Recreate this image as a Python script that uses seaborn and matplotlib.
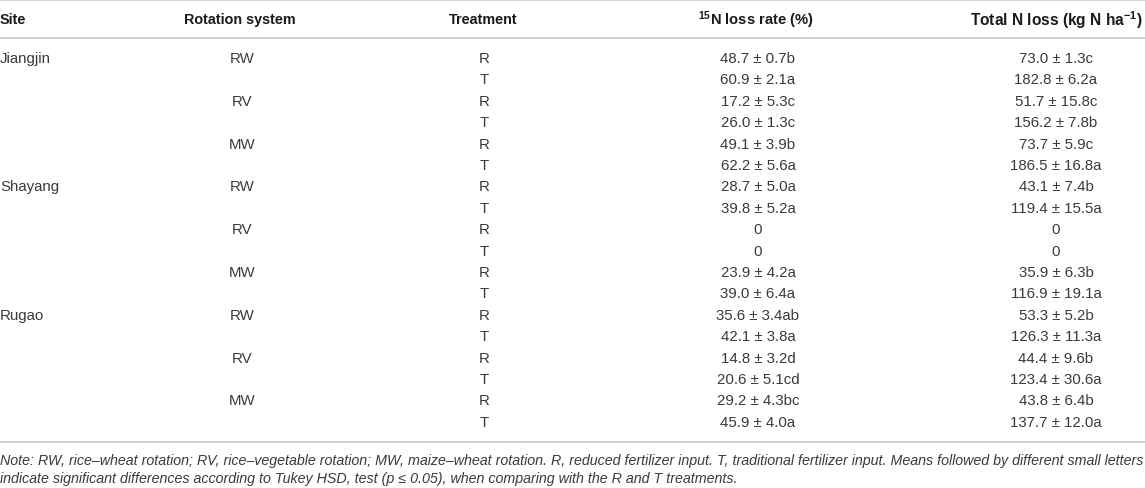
import matplotlib
matplotlib.use("Agg")
import matplotlib.pyplot as plt
import seaborn as sns

# Table content
sites = ["Jiangjin", "Shayang", "Rugao"]
rotations = ["RW", "RV", "MW"]
treatments = ["R", "T"]

n_loss_rate = [
    "48.7 ± 0.7b", "60.9 ± 2.1a", "17.2 ± 5.3c", "26.0 ± 1.3c", "49.1 ± 3.9b", "62.2 ± 5.6a",
    "28.7 ± 5.0a", "39.8 ± 5.2a", "0", "0", "23.9 ± 4.2a", "39.0 ± 6.4a",
    "35.6 ± 3.4ab", "42.1 ± 3.8a", "14.8 ± 3.2d", "20.6 ± 5.1cd", "29.2 ± 4.3bc", "45.9 ± 4.0a",
]
total_n_loss = [
    "73.0 ± 1.3c", "182.8 ± 6.2a", "51.7 ± 15.8c", "156.2 ± 7.8b", "73.7 ± 5.9c", "186.5 ± 16.8a",
    "43.1 ± 7.4b", "119.4 ± 15.5a", "0", "0", "35.9 ± 6.3b", "116.9 ± 19.1a",
    "53.3 ± 5.2b", "126.3 ± 11.3a", "44.4 ± 9.6b", "123.4 ± 30.6a", "43.8 ± 6.4b", "137.7 ± 12.0a",
]
headers = ["Site", "Rotation system", "Treatment",
           r"$^{15}$N loss rate (%)", r"Total N loss (kg N ha$^{-1}$)"]
note = ("Note: RW, rice–wheat rotation; RV, rice–vegetable rotation; MW, maize–wheat rotation. "
        "R, reduced fertilizer input. T, traditional fertilizer input. Means followed by different small letters\n"
        "indicate significant differences according to Tukey HSD, test (p ≤ 0.05), when comparing with the R and T treatments.")

sns.set_style("white")
plt.rcParams["font.family"] = ["Liberation Sans", "DejaVu Sans"]
plt.rcParams["mathtext.fontset"] = "custom"
plt.rcParams["mathtext.rm"] = "Liberation Sans:bold"
plt.rcParams["mathtext.it"] = "Liberation Sans:bold"

W, H = 1145, 489
fig = plt.figure(figsize=(W / 100, H / 100), dpi=100)
ax = fig.add_axes([0, 0, 1, 1])
ax.set_xlim(0, W)
ax.set_ylim(H, 0)
ax.axis("off")

line_col = "#cfcfcf"
head_col = "#1a1a1a"
body_col = "#3a3a3a"
fs = 10.8

# rules
for y in (1, 39, 443):
    ax.plot([0, W], [y, y], color=line_col, lw=1.3, solid_capstyle="butt")

# header
hx = [0, 240, 483, 756, 1143]
hal = ["left", "center", "center", "center", "right"]
hfs = [10.4, 10.4, 10.4, 10.6, 11.2]
for x, t, a, f in zip(hx, headers, hal, hfs):
    ax.text(x, 20, t, ha=a, va="center", fontsize=f, fontweight="bold", color=head_col)

# body rows
y0, dy = 59, 21.4
i = 0
for s in sites:
    for k, r in enumerate(rotations):
        for j, t in enumerate(treatments):
            y = y0 + i * dy
            if k == 0 and j == 0:
                ax.text(0, y, s, ha="left", va="center", fontsize=fs, color=body_col)
            if j == 0:
                ax.text(242, y, r, ha="center", va="center", fontsize=fs, color=body_col)
            ax.text(484, y, t, ha="center", va="center", fontsize=fs, color=body_col)
            ax.text(758, y, n_loss_rate[i], ha="center", va="center", fontsize=fs, color=body_col)
            ax.text(1056, y, total_n_loss[i], ha="center", va="center", fontsize=fs, color=body_col)
            i += 1

ax.text(0, 470, note, ha="left", va="center", fontsize=10.3, style="italic",
        color=body_col, linespacing=1.35)

fig.savefig("out.png", dpi=100)
